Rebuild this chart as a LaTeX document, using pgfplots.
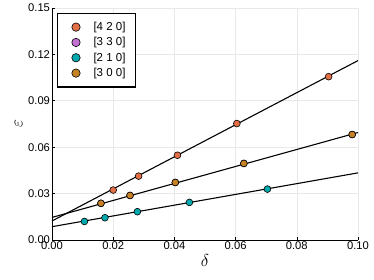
\documentclass[border=0pt]{standalone}
\usepackage{fontspec}
\setmainfont{Liberation Sans}
\usepackage{pgfplots}
\pgfplotsset{compat=1.18}
\definecolor{cA}{HTML}{E36F47}
\definecolor{cB}{HTML}{C271D2}
\definecolor{cC}{HTML}{00A9AD}
\definecolor{cD}{HTML}{C68225}
\definecolor{gridc}{HTML}{E8E8E8}
\begin{document}
\begin{tikzpicture}[x=1pt,y=1pt]
\path[use as bounding box] (-52,-40) rectangle (322,240);
\begin{axis}[
  scale only axis, width=306pt, height=232pt,
  xmin=0, xmax=0.1, ymin=0, ymax=0.15,
  axis lines*=left,
  axis line style={line width=0.9pt},
  xtick={0,0.02,0.04,0.06,0.08,0.10},
  ytick={0,0.03,0.06,0.09,0.12,0.15},
  xticklabels={0.00,0.02,0.04,0.06,0.08,0.10},
  yticklabels={0.00,0.03,0.06,0.09,0.12,0.15},
  tick align=inside, major tick length=3pt,
  tick style={black, line width=0.6pt},
  grid=major, major grid style={gridc, line width=0.6pt},
  ticklabel style={font=\fontsize{11.2}{12}\selectfont},
  xticklabel style={yshift=2pt},
  yticklabel style={xshift=1.5pt},
  xlabel={$\delta$}, ylabel={$\varepsilon$},
  label style={font=\fontsize{16}{16}\selectfont},
  xlabel style={yshift=1.5pt},
  ylabel style={yshift=-1pt},
  legend style={at={(0.016,0.98)}, anchor=north west, draw=black, line width=1.1pt,
     font=\fontsize{11.5}{12}\selectfont, row sep=1.5pt, inner xsep=8pt, inner ysep=7pt},
  legend image code/.code={\draw[#1, mark size=4.2pt] plot coordinates {(10pt,0pt)}; \path (0pt,0pt) (25pt,0pt);},
  legend cell align=left,
  clip=false,
]
\addplot[black, line width=1.1pt, forget plot] coordinates {(0,0.0123) (0.1,0.116)};
\addplot[black, line width=1.1pt, forget plot] coordinates {(0,0.0146) (0.1,0.0695)};
\addplot[black, line width=1.1pt, forget plot] coordinates {(0,0.0086) (0.1,0.0434)};
\addplot[only marks, mark=*, mark size=3.4pt, mark options={fill=cA, draw=black, line width=0.6pt}]
  coordinates {(0.0200,0.0323) (0.0283,0.0413) (0.0410,0.0548) (0.0604,0.0753) (0.0904,0.1056)};
\addlegendentry{[4 2 0]}
\addplot[only marks, mark=*, mark size=3.4pt, mark options={fill=cB, draw=black, line width=0.6pt}]
  coordinates {(0.0160,0.0237) (0.0255,0.0288) (0.0403,0.0372) (0.0627,0.0495) (0.0981,0.0682)};
\addlegendentry{[3 3 0]}
\addplot[only marks, mark=*, mark size=3.4pt, mark options={fill=cC, draw=black, line width=0.6pt}]
  coordinates {(0.0106,0.0120) (0.0173,0.0144) (0.0279,0.0183) (0.0449,0.0243) (0.0704,0.0329)};
\addlegendentry{[2 1 0]}
\addplot[only marks, mark=*, mark size=3.4pt, mark options={fill=cD, draw=black, line width=0.6pt}]
  coordinates {(0.0160,0.0237) (0.0255,0.0288) (0.0403,0.0372) (0.0627,0.0495) (0.0981,0.0682)};
\addlegendentry{[3 0 0]}
\end{axis}
\end{tikzpicture}
\end{document}
